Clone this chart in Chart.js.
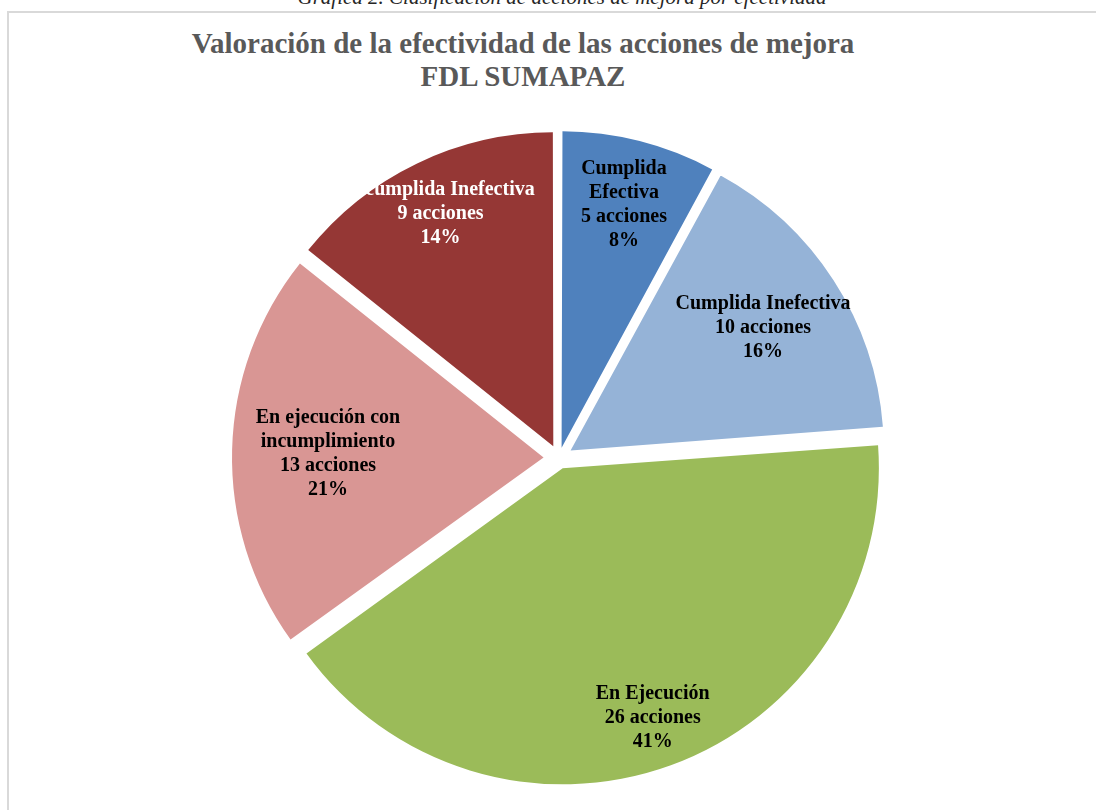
<!DOCTYPE html>
<html>
<head>
<meta charset="utf-8">
<script src="https://cdn.jsdelivr.net/npm/chart.js@4/dist/chart.umd.min.js"></script>
<style>
  html, body { margin: 0; padding: 0; background: #fff; overflow: hidden; }
  .page { position: relative; width: 1096px; height: 810px; }
  .caption {
    position: absolute; left: 0; width: 1124px; top: -15px; text-align: center;
    font-family: 'Liberation Serif', serif; font-style: italic; font-size: 21px; color: #262626;
  }
  .frame {
    position: absolute; left: 7px; top: 11px; width: 1100px; height: 820px;
    border-left: 2px solid #d9d9d9; border-top: 2px solid #d9d9d9;
  }
  .title {
    position: absolute; left: 0; width: 1046px; top: 27px; text-align: center;
    font-family: 'Liberation Serif', serif; font-weight: bold; font-size: 29px; line-height: 33px; color: #595959;
  }
  canvas { position: absolute; left: 0; top: 0; }
</style>
</head>
<body>
<div class="page">
  <div class="caption">Gráfica 2. Clasificación de acciones de mejora por efectividad</div>
  <div class="frame"></div>
  <div class="title">Valoración de la efectividad de las acciones de mejora<br>FDL SUMAPAZ</div>
  <canvas id="myChart" width="1096" height="810"></canvas>
</div>
<script>
// categories (each label line split as in the chart)
const categories = [
  ['Cumplida', 'Efectiva'],
  ['Cumplida Inefectiva'],
  ['En Ejecución'],
  ['En ejecución con', 'incumplimiento'],
  ['Incumplida Inefectiva']
];
const acciones = [5, 10, 26, 13, 9];
const sliceColors = ['#4F81BD', '#95B3D7', '#9BBB59', '#D99694', '#953735'];
const textColors = ['#000000', '#000000', '#000000', '#000000', '#ffffff'];
// how far out each label sits, as a share of the radius
const labelDist = [0.846, 0.781, 0.881, 0.743, 0.878];

const total = acciones.reduce((a, b) => a + b, 0);
const explode = 16; // px every slice is pulled out

// chart.js moves an arc by offset/4 * (2 - sin(circumference)), undo that
function sliceOffset(ctx) {
  const circ = acciones[ctx.dataIndex] / total * Math.PI * 2;
  return explode * 4 / (2 - Math.sin(Math.min(Math.PI, circ)));
}

const sliceLabels = {
  id: 'sliceLabels',
  afterDatasetsDraw(chart) {
    const ctx = chart.ctx;
    const meta = chart.getDatasetMeta(0);
    ctx.save();
    ctx.font = 'bold 20px "Liberation Serif", serif';
    ctx.textAlign = 'center';
    ctx.textBaseline = 'middle';
    meta.data.forEach((arc, i) => {
      const mid = (arc.startAngle + arc.endAngle) / 2;
      const r = arc.outerRadius * labelDist[i];
      const x = arc.x + Math.cos(mid) * r;
      const y = arc.y + Math.sin(mid) * r + 2;
      const lines = categories[i].concat([
        acciones[i] + ' acciones',
        Math.round(acciones[i] / total * 100) + '%'
      ]);
      const lh = 24;
      const y0 = y - (lines.length - 1) * lh / 2;
      ctx.fillStyle = textColors[i];
      lines.forEach((t, k) => ctx.fillText(t, x, y0 + k * lh));
    });
    ctx.restore();
  }
};

const canvas = document.getElementById('myChart');
const chart = new Chart(canvas, {
  type: 'pie',
  data: {
    labels: categories.map(c => c.join(' ')),
    datasets: [{
      data: acciones,
      backgroundColor: sliceColors,
      borderWidth: 0,
      offset: sliceOffset,
      radius: 311
    }]
  },
  options: {
    responsive: false,
    animation: false,
    layout: { padding: { left: 22, right: 0, top: 106, bottom: 0 } },
    plugins: {
      legend: { display: false },
      tooltip: { enabled: false }
    }
  },
  plugins: [sliceLabels]
});
</script>
</body>
</html>
